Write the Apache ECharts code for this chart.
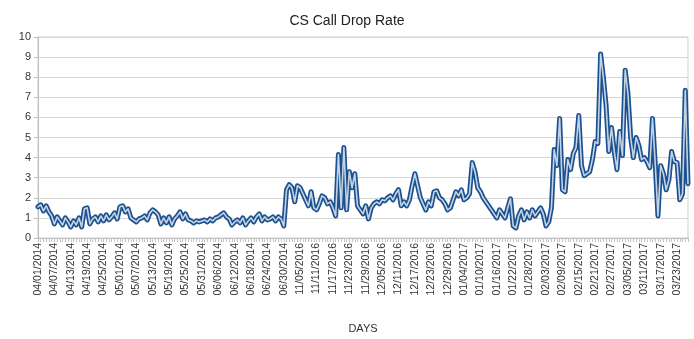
<!DOCTYPE html>
<html>
<head>
<meta charset="utf-8">
<title>CS Call Drop Rate</title>
<script src="https://cdn.jsdelivr.net/npm/echarts@6/dist/echarts.min.js"></script>
<style>
  html, body { margin: 0; padding: 0; background: #fff; }
  #chart { width: 694px; height: 339px; }
</style>
</head>
<body>
<div id="chart"></div>
<script>
// Daily CS call drop rate, spring 2014 and winter 2016/17
const days2014 = buildDays(2014, 4, 1, 96);
const days2016 = buildDays(2016, 11, 5, 143);
const days = days2014.concat(days2016);

const rate2014 = [
  1.55, 1.65, 1.35, 1.6, 1.3, 1.1, 0.7, 1.05, 0.85, 0.65,
  1.0, 0.8, 0.55, 0.85, 0.65, 1.0, 0.55, 1.45, 1.5, 0.7,
  0.95, 1.05, 0.8, 1.1, 0.85, 1.15, 0.9, 1.05, 1.25, 0.95,
  1.55, 1.6, 1.3, 1.45, 1.0, 0.9, 0.8, 0.95, 1.0, 1.1,
  0.9, 1.25, 1.4, 1.3, 1.15, 0.7, 1.0, 0.75, 1.05, 0.65,
  0.95, 1.1, 1.3, 0.95, 1.2, 0.9, 0.85, 0.75, 0.85, 0.8,
  0.85, 0.9, 0.8, 0.95, 0.85, 1.0, 1.05, 1.15, 1.25, 1.05,
  0.95, 0.65, 0.8, 0.9, 0.75, 1.0, 0.65, 0.85, 1.0, 0.8,
  1.05, 1.2, 0.85, 1.05, 0.9, 0.95, 1.05, 0.85, 1.05, 0.95,
  0.6, 2.4, 2.65, 2.5, 1.8, 2.6
];

const rate2016 = [
  2.5, 2.2, 1.9, 1.6, 2.3, 1.5, 1.4, 1.7, 2.1, 2.0,
  1.7, 1.8, 1.5, 1.1, 4.15, 1.5, 4.5, 1.4, 3.3, 2.5,
  3.2, 1.6, 1.4, 1.2, 1.6, 0.95, 1.5, 1.7, 1.8, 1.7,
  1.9, 1.85, 2.0, 2.1, 1.9, 2.2, 2.4, 1.6, 1.8, 1.6,
  1.9, 2.6, 3.2, 2.6, 2.0, 1.7, 1.4, 1.8, 1.6, 2.3,
  2.35, 2.0, 1.9, 1.7, 1.4, 1.5, 1.9, 2.3, 2.1, 2.4,
  1.9, 2.0, 2.2, 3.75, 3.3, 2.5, 2.3, 2.0, 1.8, 1.6,
  1.4, 1.2, 1.0, 1.4, 1.2, 1.0, 1.5, 1.95, 0.6, 0.5,
  1.1, 1.4, 0.9, 1.3, 1.0, 1.4, 1.1, 1.3, 1.5, 1.2,
  0.6, 0.8, 1.5, 4.4, 3.6, 5.95, 2.4, 2.3, 3.9, 3.4,
  4.2, 4.5, 6.1, 3.6, 3.1, 3.2, 3.3, 3.9, 4.8, 4.7,
  9.15, 8.0, 6.6, 4.3, 5.5, 4.3, 3.4, 5.3, 4.1, 8.35,
  7.2, 5.0, 4.0, 5.0, 4.6, 3.9, 4.0, 3.8, 3.5, 5.95,
  3.7, 1.1, 3.6, 3.2, 2.4, 2.9, 4.3, 3.8, 3.75, 1.9,
  2.2, 7.35, 2.7
];
const rates = rate2014.concat(rate2016);

const yTicks = [0, 1, 2, 3, 4, 5, 6, 7, 8, 9, 10];

function buildDays(year, month, day, count) {
  const out = [];
  const d = new Date(Date.UTC(year, month - 1, day));
  for (let k = 0; k < count; k++) {
    const mm = String(d.getUTCMonth() + 1).padStart(2, '0');
    const dd = String(d.getUTCDate()).padStart(2, '0');
    out.push(mm + '/' + dd + '/' + d.getUTCFullYear());
    d.setUTCDate(d.getUTCDate() + 1);
  }
  return out;
}

const FONT = '"Liberation Sans", Arial, sans-serif';
const chart = echarts.init(document.getElementById('chart'), null, { renderer: 'canvas' });

chart.setOption({
  animation: false,
  backgroundColor: '#ffffff',
  title: {
    text: 'CS Call Drop Rate',
    left: 'center',
    top: 9,
    textStyle: { fontFamily: FONT, fontSize: 14, fontWeight: 'normal', color: '#222' }
  },
  grid: {
    left: 38, right: 6, top: 37, bottom: 89,
    show: true, borderColor: '#cfcfcf', borderWidth: 1
  },
  xAxis: {
    type: 'category',
    data: days,
    boundaryGap: false,
    name: 'DAYS',
    nameLocation: 'middle',
    nameGap: 85,
    nameTextStyle: { fontFamily: FONT, fontSize: 11, color: '#333' },
    axisLine: { lineStyle: { color: '#bdbdbd' } },
    axisTick: { show: true, interval: 0, length: 4, lineStyle: { color: '#c4c4c4' } },
    axisLabel: {
      interval: 5, rotate: 90, margin: 5,
      fontFamily: FONT, fontSize: 10.5, color: '#333'
    },
    splitLine: { show: false }
  },
  yAxis: {
    type: 'value',
    min: yTicks[0],
    max: yTicks[yTicks.length - 1],
    interval: 1,
    axisLine: { show: true, lineStyle: { color: '#bdbdbd' } },
    axisTick: { show: true, length: 4, lineStyle: { color: '#bdbdbd' } },
    axisLabel: { fontFamily: FONT, fontSize: 11, color: '#333', margin: 7 },
    splitLine: { lineStyle: { color: '#d6d6d6', width: 1 } }
  },
  series: [
    {
      name: 'CS Call Drop Rate',
      type: 'line',
      data: rates,
      showSymbol: false,
      symbol: 'none',
      lineStyle: { color: '#1b5190', width: 5, join: 'round', cap: 'round' },
      z: 2
    },
    {
      name: 'CS Call Drop Rate core',
      type: 'line',
      data: rates,
      showSymbol: false,
      symbol: 'none',
      lineStyle: { color: '#ffffff', width: 1.6, opacity: 0.75, join: 'round', cap: 'round' },
      z: 3
    }
  ]
});
</script>
</body>
</html>
